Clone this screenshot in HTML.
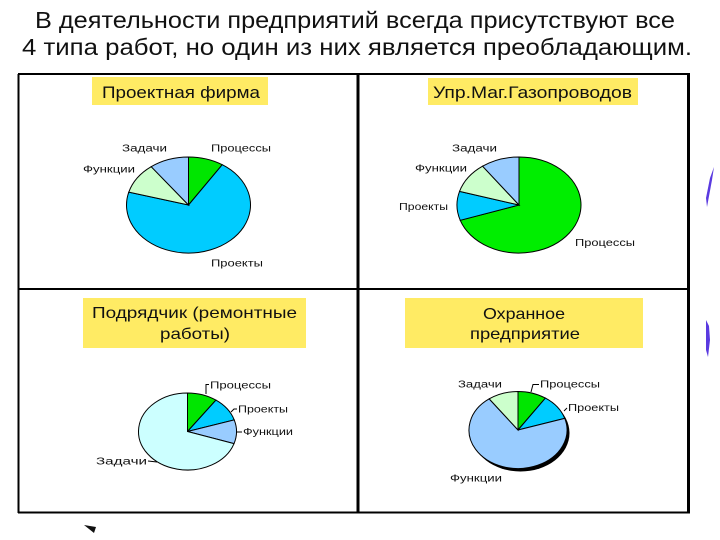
<!DOCTYPE html>
<html><head><meta charset="utf-8"><style>
html,body{margin:0;padding:0;background:#fff;}
svg{display:block;}
text{font-family:"Liberation Sans","DejaVu Sans",sans-serif;}
</style></head><body>
<svg width="720" height="540" viewBox="0 0 720 540" xmlns="http://www.w3.org/2000/svg">
<rect width="720" height="540" fill="#fff"/>
<!-- heading -->
<text x="35" y="28" font-size="23" fill="#111" textLength="640" lengthAdjust="spacingAndGlyphs">В деятельности предприятий всегда присутствуют все</text>
<text x="22" y="55" font-size="23" fill="#111" textLength="670" lengthAdjust="spacingAndGlyphs">4 типа работ, но один из них является преобладающим.</text>

<!-- frame -->
<g stroke="#000" fill="none">
<line x1="18" y1="74" x2="690" y2="74" stroke-width="2"/>
<line x1="18" y1="289" x2="690" y2="289" stroke-width="2"/>
<line x1="18" y1="512.5" x2="690" y2="512.5" stroke-width="2"/>
<line x1="18.5" y1="74" x2="18.5" y2="513" stroke-width="2"/>
<line x1="358" y1="74" x2="358" y2="513" stroke-width="3"/>
<line x1="688.5" y1="73" x2="688.5" y2="513" stroke-width="3"/>
</g>

<!-- title boxes -->
<rect x="92" y="77" width="176" height="28" fill="#ffeb64"/>
<text x="102" y="98" font-size="17" fill="#111" textLength="158" lengthAdjust="spacingAndGlyphs">Проектная фирма</text>
<rect x="428" y="78" width="210" height="27" fill="#ffeb64"/>
<text x="433" y="98" font-size="17" fill="#111" textLength="199" lengthAdjust="spacingAndGlyphs">Упр.Маг.Газопроводов</text>
<rect x="83" y="298" width="223" height="50" fill="#ffeb64"/>
<text x="92" y="318" font-size="16" fill="#111" textLength="205" lengthAdjust="spacingAndGlyphs">Подрядчик (ремонтные</text>
<text x="160" y="339" font-size="16" fill="#111" textLength="70" lengthAdjust="spacingAndGlyphs">работы)</text>
<rect x="405" y="298" width="238" height="50" fill="#ffeb64"/>
<text x="483" y="319" font-size="16" fill="#111" textLength="82" lengthAdjust="spacingAndGlyphs">Охранное</text>
<text x="470" y="339" font-size="16" fill="#111" textLength="110" lengthAdjust="spacingAndGlyphs">предприятие</text>

<!-- pie 1 -->
<g stroke="#000" stroke-width="1">
<path d="M188.5,205 L188.5,157 A62,48 0 0 1 222.27,164.74 Z" fill="#00e600"/>
<path d="M188.5,205 L222.27,164.74 A62,48 0 1 1 128.76,192.17 Z" fill="#00ccff"/>
<path d="M188.5,205 L128.76,192.17 A62,48 0 0 1 151.19,166.67 Z" fill="#ccffcc"/>
<path d="M188.5,205 L151.19,166.67 A62,48 0 0 1 188.5,157 Z" fill="#99ccff"/>
</g>
<g font-size="10" fill="#111">
<text x="122" y="151.5" textLength="45" lengthAdjust="spacingAndGlyphs">Задачи</text>
<text x="211" y="151.5" textLength="60" lengthAdjust="spacingAndGlyphs">Процессы</text>
<text x="83" y="172.5" textLength="52" lengthAdjust="spacingAndGlyphs">Функции</text>
<text x="211" y="266.5" textLength="52" lengthAdjust="spacingAndGlyphs">Проекты</text>
</g>

<!-- pie 2 -->
<g stroke="#000" stroke-width="1">
<path d="M519,205 L519,157 A62,48 0 1 1 460.24,220.31 Z" fill="#00ee00"/>
<path d="M519,205 L460.24,220.31 A62,48 0 0 1 459.55,191.37 Z" fill="#00ccff"/>
<path d="M519,205 L459.55,191.37 A62,48 0 0 1 482.56,166.17 Z" fill="#ccffcc"/>
<path d="M519,205 L482.56,166.17 A62,48 0 0 1 519,157 Z" fill="#99ccff"/>
</g>
<g font-size="10" fill="#111">
<text x="452" y="151.5" textLength="45" lengthAdjust="spacingAndGlyphs">Задачи</text>
<text x="415" y="171.5" textLength="52" lengthAdjust="spacingAndGlyphs">Функции</text>
<text x="399" y="210" textLength="49" lengthAdjust="spacingAndGlyphs">Проекты</text>
<text x="575" y="246" textLength="60" lengthAdjust="spacingAndGlyphs">Процессы</text>
</g>

<!-- pie 3 -->
<g stroke="#000" stroke-width="1">
<path d="M187.5,431.5 L187.5,393 A49,38.5 0 0 1 215.89,400.12 Z" fill="#00e600"/>
<path d="M187.5,431.5 L215.89,400.12 A49,38.5 0 0 1 234.23,419.92 Z" fill="#00ccff"/>
<path d="M187.5,431.5 L234.23,419.92 A49,38.5 0 0 1 234.0,443.65 Z" fill="#99ccff"/>
<path d="M187.5,431.5 L234.0,443.65 A49,38.5 0 1 1 187.5,393 Z" fill="#ccffff"/>
</g>
<g stroke="#000" stroke-width="1" fill="none">
<polyline points="206,394 206,384.5 209,384.5"/>
<polyline points="231,412 234,409 237,409"/>
<polyline points="236,432 242,432"/>
<polyline points="148,461 157,462"/>
</g>
<g font-size="10" fill="#111">
<text x="210" y="388.5" textLength="61" lengthAdjust="spacingAndGlyphs">Процессы</text>
<text x="238" y="412.5" textLength="50" lengthAdjust="spacingAndGlyphs">Проекты</text>
<text x="243" y="435" textLength="50" lengthAdjust="spacingAndGlyphs">Функции</text>
<text x="96" y="464.5" textLength="51" lengthAdjust="spacingAndGlyphs">Задачи</text>
</g>

<!-- pie 4 -->
<ellipse cx="520.5" cy="433" rx="49" ry="38.5" fill="#000"/>
<g stroke="#000" stroke-width="1">
<path d="M518,430 L518,391.5 A49,38.5 0 0 1 545.40,398.08 Z" fill="#00e600"/>
<path d="M518,430 L545.40,398.08 A49,38.5 0 0 1 564.71,418.36 Z" fill="#00ccff"/>
<path d="M518,430 L564.71,418.36 A49,38.5 0 1 1 489.2,398.85 Z" fill="#99ccff"/>
<path d="M518,430 L489.2,398.85 A49,38.5 0 0 1 518,391.5 Z" fill="#ccffcc"/>
</g>
<g stroke="#000" stroke-width="1" fill="none">
<polyline points="531,392 533,384.5 539,384.5"/>
<polyline points="564,411 567,408"/>
</g>
<g font-size="10" fill="#111">
<text x="458" y="387.5" textLength="44" lengthAdjust="spacingAndGlyphs">Задачи</text>
<text x="540" y="387.5" textLength="60" lengthAdjust="spacingAndGlyphs">Процессы</text>
<text x="568" y="411" textLength="51" lengthAdjust="spacingAndGlyphs">Проекты</text>
<text x="450" y="481.5" textLength="52" lengthAdjust="spacingAndGlyphs">Функции</text>
</g>

<!-- decorations -->
<path d="M84,525 L96,527 L94,533 Z" fill="#111"/>
<path d="M714,167 L712,180 L707,207 L706,198 L710,178 Z" fill="#5a3ae0"/>
<path d="M706,320 L709,326 L710,340 L708,357 L706,350 Z" fill="#5a3ae0"/>
</svg>
</body></html>
